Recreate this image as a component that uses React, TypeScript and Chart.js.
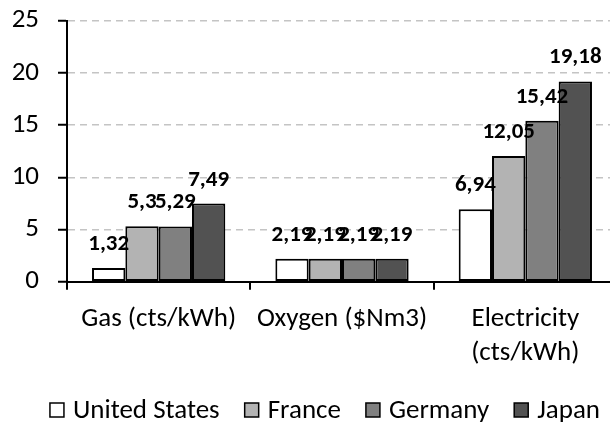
import React, { useEffect, useRef } from 'react';
import { Chart, registerables } from 'chart.js';

Chart.register(...registerables);

const categories: (string | string[])[] = ['Gas (cts/kWh)', 'Oxygen ($Nm3)', ['Electricity', '(cts/kWh)']];
const seriesNames = ['United States', 'France', 'Germany', 'Japan'];
const unitedStates = [1.32, 2.19, 6.94];
const france = [5.3, 2.19, 12.05];
const germany = [5.29, 2.19, 15.42];
const japan = [7.49, 2.19, 19.18];
const seriesColors = ['#ffffff', '#b3b3b3', '#808080', '#525252'];
const yMin = 0;
const yMax = 25;
const yStep = 5;

const FONT = 'Carlito, Lato, sans-serif';

const fmt = (v: number) => String(v).replace('.', ',');

const dataLabels = {
  id: 'dataLabels',
  afterDatasetsDraw(chart: any) {
    const ctx = chart.ctx;
    ctx.save();
    ctx.font = `bold 23px ${FONT}`;
    ctx.fillStyle = '#000';
    ctx.textAlign = 'center';
    ctx.textBaseline = 'alphabetic';
    chart.data.datasets.forEach((ds: any, i: number) => {
      const meta = chart.getDatasetMeta(i);
      meta.data.forEach((el: any, j: number) => {
        ctx.fillText(fmt(ds.data[j]), el.x, el.y - 18);
      });
    });
    ctx.restore();
  },
};

const bottomLegend = {
  id: 'bottomLegend',
  afterDraw(chart: any) {
    const ctx = chart.ctx;
    ctx.save();
    ctx.font = `27px ${FONT}`;
    const box = 14;
    const gapBoxText = 9;
    const gapItems = 25;
    const items = chart.data.datasets.map((ds: any) => ({
      label: ds.label,
      color: ds.backgroundColor,
      w: ctx.measureText(ds.label).width,
    }));
    const total =
      items.reduce((s: number, it: any) => s + box + gapBoxText + it.w, 0) + gapItems * (items.length - 1);
    let x = 325 - total / 2;
    const cy = 410;
    ctx.textBaseline = 'middle';
    ctx.textAlign = 'left';
    items.forEach((it: any) => {
      ctx.fillStyle = it.color;
      ctx.fillRect(x, cy - box / 2, box, box);
      ctx.strokeStyle = '#000';
      ctx.lineWidth = 1.5;
      ctx.strokeRect(x, cy - box / 2, box, box);
      ctx.fillStyle = '#000';
      ctx.fillText(it.label, x + box + gapBoxText, cy + 1);
      x += box + gapBoxText + it.w + gapItems;
    });
    ctx.restore();
  },
};

export default function App() {
  const ref = useRef<HTMLCanvasElement>(null);

  useEffect(() => {
    if (!ref.current) return;
    const series = [unitedStates, france, germany, japan];
    const chart = new Chart(ref.current, {
      type: 'bar',
      data: {
        labels: categories,
        datasets: series.map((d, i) => ({
          label: seriesNames[i],
          data: d,
          backgroundColor: seriesColors[i],
          borderColor: '#000',
          borderWidth: 2,
          borderSkipped: false,
          categoryPercentage: 0.727,
          barPercentage: 1.0,
        })),
      },
      options: {
        responsive: false,
        animation: false,
        layout: { padding: { left: 0, right: 23, top: 20.7, bottom: 0 } },
        plugins: {
          legend: { display: false },
          tooltip: { enabled: false },
        },
        scales: {
          x: {
            offset: true,
            grid: {
              offset: true,
              drawOnChartArea: false,
              drawTicks: true,
              tickLength: 8,
              tickColor: '#000',
              tickWidth: 2,
              color: '#000',
              lineWidth: 2,
            },
            border: { display: true, color: '#000', width: 2 },
            ticks: {
              color: '#000',
              font: { family: FONT, size: 27, lineHeight: '34px' },
              padding: 13,
              maxRotation: 0,
              autoSkip: false,
            },
            afterFit: (scale: any) => {
              scale.height = 143.3;
              scale.paddingLeft = 0;
              scale.paddingRight = 0;
            },
          },
          y: {
            min: yMin,
            max: yMax,
            ticks: {
              stepSize: yStep,
              color: '#000',
              font: { family: FONT, size: 27 },
              padding: 19,
            },
            grid: {
              color: (c: any) => (c.tick && c.tick.value === 0 ? 'rgba(0,0,0,0)' : '#c4c4c4'),
              lineWidth: 1.5,
              drawTicks: true,
              tickLength: 9,
              tickColor: '#000',
              tickWidth: 2,
              tickBorderDash: [],
            },
            border: { display: true, color: '#000', width: 2, dash: [7, 5] },
            afterFit: (scale: any) => {
              scale.width = 67;
              scale.paddingTop = 0;
              scale.paddingBottom = 0;
            },
          },
        },
      },
      plugins: [dataLabels, bottomLegend],
    });
    return () => chart.destroy();
  }, []);

  return (
    <div style={{ position: 'fixed', left: 0, top: 0, width: 610, height: 425, overflow: 'hidden', background: '#fff' }}>
      <canvas ref={ref} width={640} height={425} style={{ display: 'block' }} />
    </div>
  );
}
